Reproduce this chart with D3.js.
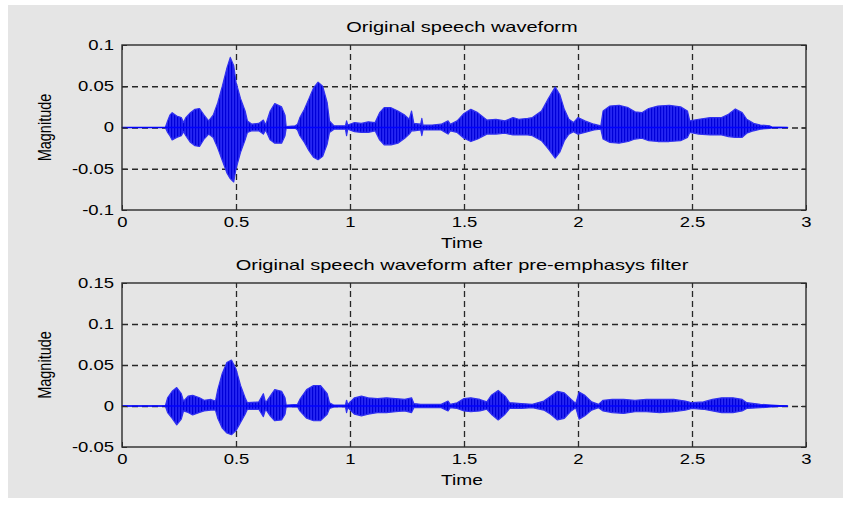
<!DOCTYPE html>
<html>
<head>
<meta charset="utf-8">
<script src="https://cdn.jsdelivr.net/npm/d3@7"></script>
<style>
body { margin: 0; background: #fff; }
text { font-family: "Liberation Sans", Arial, sans-serif; fill: #000; }
</style>
</head>
<body>
<script>
// envelope of the waveform: time (s), upper and lower magnitude
var time1 = [0, 0.19, 0.20, 0.21, 0.22, 0.24, 0.26, 0.27, 0.28, 0.30, 0.32, 0.34, 0.36, 0.38, 0.40, 0.42, 0.44, 0.46, 0.475, 0.49,
  0.50, 0.52, 0.54, 0.55, 0.57, 0.60, 0.62, 0.63, 0.65, 0.67, 0.70, 0.715, 0.72, 0.76, 0.77, 0.78, 0.80, 0.82, 0.84, 0.86,
  0.88, 0.90, 0.91, 0.93, 0.98, 0.985, 0.99, 1.02, 1.05, 1.08, 1.11, 1.13, 1.15, 1.18, 1.21, 1.24, 1.26, 1.27, 1.28, 1.31,
  1.315, 1.32, 1.36, 1.40, 1.43, 1.44, 1.47, 1.50, 1.53, 1.56, 1.60, 1.64, 1.68, 1.715, 1.74, 1.78, 1.80, 1.84, 1.87, 1.90,
  1.92, 1.94, 1.96, 1.98, 2.00, 2.03, 2.07, 2.10, 2.11, 2.14, 2.18, 2.22, 2.25, 2.28, 2.31, 2.35, 2.40, 2.45, 2.48, 2.49,
  2.53, 2.58, 2.63, 2.66, 2.69, 2.72, 2.74, 2.77, 2.80, 2.84, 2.85, 2.92];
var upper1 = [0, 0, 0.008, 0.015, 0.018, 0.014, 0.012, 0.006, 0.012, 0.018, 0.022, 0.023, 0.015, 0.008, 0.015, 0.03, 0.05, 0.072, 0.085, 0.075,
  0.055, 0.035, 0.02, 0.008, 0.004, 0.005, 0.009, 0.003, 0.02, 0.029, 0.025, 0.015, 0.001, 0.002, 0.004, 0.012, 0.022, 0.035, 0.048, 0.055,
  0.05, 0.03, 0.008, 0.002, 0.002, 0.008, 0.003, 0.006, 0.005, 0.007, 0.006, 0.018, 0.024, 0.024, 0.02, 0.015, 0.01, 0.02, 0.005, 0.004,
  0.011, 0.003, 0.003, 0.004, 0.008, 0.004, 0.008, 0.017, 0.022, 0.018, 0.009, 0.01, 0.008, 0.012, 0.01, 0.011, 0.012, 0.02, 0.035, 0.049,
  0.04, 0.022, 0.01, 0.006, 0.012, 0.008, 0.004, 0.002, 0.02, 0.026, 0.027, 0.024, 0.019, 0.018, 0.023, 0.026, 0.027, 0.025, 0.02, 0.008,
  0.01, 0.012, 0.012, 0.016, 0.0225, 0.018, 0.01, 0.005, 0.003, 0.002, 0.0005, 0];
var lower1 = [0, 0, -0.006, -0.01, -0.015, -0.012, -0.01, -0.005, -0.01, -0.018, -0.022, -0.023, -0.014, -0.008, -0.012, -0.025, -0.04, -0.055, -0.062, -0.066,
  -0.05, -0.03, -0.015, -0.006, -0.004, -0.004, -0.008, -0.003, -0.015, -0.019, -0.019, -0.01, -0.001, -0.001, -0.003, -0.01, -0.018, -0.028, -0.036, -0.039,
  -0.035, -0.02, -0.006, -0.002, -0.002, -0.01, -0.002, -0.005, -0.006, -0.006, -0.004, -0.015, -0.021, -0.021, -0.019, -0.013, -0.008, -0.004, -0.004, -0.003,
  -0.01, -0.003, -0.003, -0.003, -0.008, -0.004, -0.006, -0.013, -0.017, -0.014, -0.008, -0.008, -0.007, -0.009, -0.009, -0.009, -0.01, -0.016, -0.026, -0.037,
  -0.03, -0.016, -0.008, -0.005, -0.008, -0.006, -0.003, -0.002, -0.014, -0.018, -0.019, -0.017, -0.014, -0.013, -0.016, -0.017, -0.017, -0.016, -0.012, -0.006,
  -0.008, -0.009, -0.009, -0.011, -0.012, -0.012, -0.007, -0.004, -0.002, -0.001, -0.0005, 0];

var time2 = [0, 0.19, 0.20, 0.22, 0.24, 0.26, 0.27, 0.29, 0.31, 0.34, 0.36, 0.39, 0.41, 0.42, 0.44, 0.46, 0.48, 0.50, 0.52, 0.54,
  0.55, 0.60, 0.62, 0.63, 0.65, 0.67, 0.70, 0.715, 0.72, 0.77, 0.78, 0.81, 0.84, 0.87, 0.90, 0.91, 0.93, 0.98, 0.985, 0.99,
  1.02, 1.05, 1.08, 1.12, 1.16, 1.20, 1.24, 1.27, 1.28, 1.31, 1.40, 1.43, 1.44, 1.47, 1.50, 1.53, 1.57, 1.60, 1.62, 1.65,
  1.68, 1.70, 1.75, 1.80, 1.85, 1.88, 1.91, 1.94, 1.97, 1.99, 2.005, 2.03, 2.06, 2.09, 2.11, 2.15, 2.20, 2.25, 2.30, 2.36,
  2.42, 2.47, 2.50, 2.55, 2.59, 2.63, 2.68, 2.72, 2.74, 2.80, 2.85, 2.92];
var upper2 = [0, 0, 0.01, 0.018, 0.0225, 0.015, 0.006, 0.012, 0.013, 0.01, 0.007, 0.008, 0.006, 0.02, 0.04, 0.053, 0.056, 0.045, 0.025, 0.01,
  0.004, 0.005, 0.015, 0.004, 0.012, 0.02, 0.018, 0.01, 0.001, 0.002, 0.008, 0.02, 0.025, 0.025, 0.015, 0.004, 0.001, 0.001, 0.007, 0.002,
  0.01, 0.012, 0.01, 0.009, 0.01, 0.009, 0.008, 0.01, 0.003, 0.002, 0.002, 0.006, 0.002, 0.004, 0.009, 0.01, 0.008, 0.005, 0.013, 0.019,
  0.012, 0.004, 0.003, 0.002, 0.006, 0.012, 0.018, 0.016, 0.008, 0.003, 0.017, 0.013, 0.005, 0.002, 0.007, 0.008, 0.008, 0.007, 0.008, 0.008,
  0.008, 0.006, 0.004, 0.005, 0.008, 0.01, 0.01, 0.008, 0.004, 0.002, 0.001, 0];
var lower2 = [0, 0, -0.008, -0.015, -0.023, -0.016, -0.006, -0.008, -0.011, -0.008, -0.006, -0.005, -0.005, -0.015, -0.027, -0.033, -0.035, -0.03, -0.02, -0.01,
  -0.004, -0.004, -0.013, -0.004, -0.012, -0.018, -0.017, -0.01, -0.001, -0.001, -0.006, -0.015, -0.018, -0.018, -0.01, -0.003, -0.001, -0.001, -0.008, -0.002,
  -0.01, -0.012, -0.01, -0.008, -0.008, -0.007, -0.006, -0.008, -0.002, -0.002, -0.002, -0.006, -0.002, -0.003, -0.006, -0.007, -0.006, -0.004, -0.01, -0.017,
  -0.01, -0.003, -0.003, -0.002, -0.005, -0.01, -0.017, -0.015, -0.006, -0.002, -0.016, -0.012, -0.005, -0.002, -0.006, -0.008, -0.009, -0.007, -0.007, -0.008,
  -0.007, -0.005, -0.003, -0.004, -0.006, -0.008, -0.008, -0.006, -0.003, -0.002, -0.001, 0];

var xTicks = [0, 0.5, 1, 1.5, 2, 2.5, 3];
var xTickLabels = ["0", "0.5", "1", "1.5", "2", "2.5", "3"];
var yTicks1 = [-0.1, -0.05, 0, 0.05, 0.1];
var yTickLabels1 = ["-0.1", "-0.05", "0", "0.05", "0.1"];
var yTicks2 = [-0.05, 0, 0.05, 0.1, 0.15];
var yTickLabels2 = ["-0.05", "0", "0.05", "0.1", "0.15"];

var W = 843, H = 508;
var left = 122, right = 806;
var STRETCH = 1.32; // the picture's text is wider than normal

var svg = d3.select("body").append("svg").attr("width", W).attr("height", H);
svg.append("rect").attr("width", W).attr("height", H).attr("fill", "#fff");
svg.append("rect").attr("x", 8).attr("y", 5).attr("width", W - 8).attr("height", 493).attr("fill", "#e5e5e5");

// vertical stripes so the filled envelope reads like dense samples
var pat = svg.append("defs").append("pattern").attr("id", "wave")
  .attr("patternUnits", "userSpaceOnUse").attr("width", 3).attr("height", 10);
pat.append("rect").attr("width", 3).attr("height", 10).attr("fill", "#2626f2");
pat.append("rect").attr("width", 1.2).attr("height", 10).attr("fill", "#0000d8");

function widen(sel, k) {
  sel.each(function () {
    var w = this.getComputedTextLength();
    d3.select(this).attr("textLength", w * (k || STRETCH)).attr("lengthAdjust", "spacingAndGlyphs");
  });
}

function panel(top, bottom, yTicks, yLabels, title, times, upper, lower) {
  var x = d3.scaleLinear().domain([0, 3]).range([left, right]);
  var y = d3.scaleLinear().domain([yTicks[0], yTicks[yTicks.length - 1]]).range([bottom, top]);
  var g = svg.append("g");

  // dashed grid under the data
  var gx = g.append("g").attr("transform", "translate(0," + bottom + ")")
    .call(d3.axisBottom(x).tickValues(xTicks.slice(1, -1)).tickSize(-(bottom - top)).tickFormat(""));
  var gy = g.append("g").attr("transform", "translate(" + left + ",0)")
    .call(d3.axisLeft(y).tickValues(yTicks.slice(1, -1)).tickSize(-(right - left)).tickFormat(""));
  [gx, gy].forEach(function (a) {
    a.select(".domain").remove();
    a.selectAll("line").attr("stroke", "#262626").attr("stroke-width", 1.3).attr("stroke-dasharray", "6,4");
  });

  var pts = times.map(function (t, i) { return { t: t, hi: upper[i], lo: lower[i] }; });
  var area = d3.area().x(function (d) { return x(d.t); })
    .y0(function (d) { return y(d.lo); }).y1(function (d) { return y(d.hi); });
  g.append("path").datum(pts).attr("d", area)
    .attr("fill", "url(#wave)").attr("stroke", "#3030f0").attr("stroke-width", 1.2).attr("stroke-linejoin", "round");
  var zero = d3.line().x(function (d) { return x(d.t); }).y(function () { return y(0); });
  g.append("path").datum([pts[0], pts[pts.length - 1]]).attr("d", zero)
    .attr("stroke", "#0000ff").attr("stroke-width", 1.5).attr("fill", "none");

  // box and inward ticks
  var ab = g.append("g").attr("transform", "translate(0," + bottom + ")")
    .call(d3.axisBottom(x).tickValues(xTicks).tickSize(-5).tickPadding(7)
      .tickFormat(function (d, i) { return xTickLabels[i]; }));
  var al = g.append("g").attr("transform", "translate(" + left + ",0)")
    .call(d3.axisLeft(y).tickValues(yTicks).tickSize(-5).tickPadding(8)
      .tickFormat(function (d, i) { return yLabels[i]; }));
  var at = g.append("g").attr("transform", "translate(0," + top + ")")
    .call(d3.axisTop(x).tickValues(xTicks).tickSize(-5).tickFormat(""));
  var ar = g.append("g").attr("transform", "translate(" + right + ",0)")
    .call(d3.axisRight(y).tickValues(yTicks).tickSize(-5).tickFormat(""));
  [ab, al, at, ar].forEach(function (a) {
    a.select(".domain").remove();
    a.selectAll("line").attr("stroke", "#2b2b2b").attr("stroke-width", 1);
    a.selectAll("text").attr("font-size", 14).attr("fill", "#000")
      .attr("font-family", "'Liberation Sans', Arial, sans-serif");
  });
  widen(ab.selectAll("text"));
  widen(al.selectAll("text"));
  g.append("rect").attr("x", left).attr("y", top).attr("width", right - left).attr("height", bottom - top)
    .attr("fill", "none").attr("stroke", "#2b2b2b").attr("stroke-width", 1.4);

  var cx = (left + right) / 2;
  widen(g.append("text").attr("x", cx - 2).attr("y", top - 13).attr("text-anchor", "middle")
    .attr("font-size", 14.5).text(title), 1.38);
  widen(g.append("text").attr("x", cx - 2).attr("y", bottom + 38).attr("text-anchor", "middle")
    .attr("font-size", 14.5).text("Time"));
  g.append("text").attr("transform", "translate(51," + ((top + bottom) / 2) + ") scale(1.3,1) rotate(-90)")
    .attr("text-anchor", "middle").attr("font-size", 14.5).text("Magnitude");
}

panel(45, 210, yTicks1, yTickLabels1, "Original speech waveform", time1, upper1, lower1);
panel(283, 447, yTicks2, yTickLabels2, "Original speech waveform after pre-emphasys filter", time2, upper2, lower2);
</script>
</body>
</html>
